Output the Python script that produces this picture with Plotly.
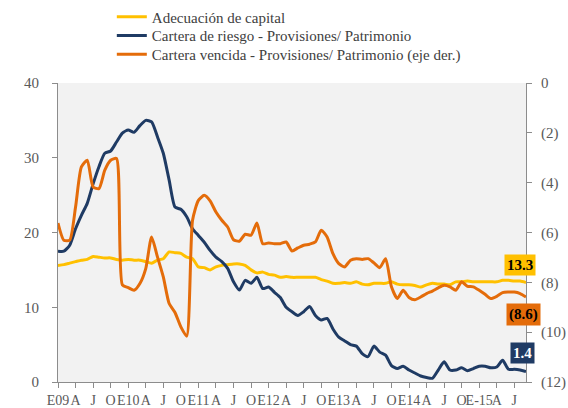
import plotly.graph_objects as go

# Monthly data, Jan 2009 .. Sep 2015 (81 months)
months = list(range(81))

adecuacion = [15.6, 15.7, 15.9, 16.1, 16.3, 16.4, 16.8, 16.7, 16.6, 16.6,
              16.4, 16.3, 16.4, 16.3, 16.3, 16.1, 15.9, 16.3, 16.5, 17.4,
              17.3, 17.2, 16.7, 16.5, 15.4, 15.3, 15.0, 15.4, 15.6, 15.7,
              15.8, 15.8, 15.6, 15.0, 14.6, 14.7, 14.4, 14.3, 14.0, 14.1,
              14.0, 14.0, 14.0, 14.0, 14.0, 13.7, 13.5, 13.2, 13.2, 13.3,
              13.2, 13.4, 13.1, 13.0, 13.2, 13.2, 13.2, 13.4, 13.1, 13.0,
              13.0, 12.9, 12.7, 13.0, 13.2, 13.1, 13.1, 13.0, 13.4, 13.4,
              13.5, 13.4, 13.4, 13.4, 13.4, 13.4, 13.6, 13.6, 13.5, 13.5,
              13.3]

cartera_riesgo = [17.5, 17.5, 18.3, 20.5, 22.3, 23.9, 26.5, 28.8, 30.6, 30.9,
                  32.1, 33.3, 33.7, 33.4, 34.3, 35.0, 34.8, 32.8, 30.6, 27.0,
                  23.4, 23.1, 22.1, 20.5, 19.6, 18.7, 17.6, 16.7, 16.1, 15.2,
                  13.4, 12.3, 13.6, 13.2, 14.0, 12.5, 12.7, 12.0, 11.3, 10.0,
                  9.4, 8.9, 9.4, 10.1, 8.9, 8.3, 8.5, 7.1, 6.0, 5.5,
                  5.0, 4.8, 3.8, 3.4, 4.8, 4.0, 3.6, 2.2, 1.8, 2.1,
                  1.6, 1.2, 0.8, 0.6, 0.5, 1.6, 2.7, 1.6, 1.6, 1.9,
                  1.5, 1.8, 2.1, 2.1, 1.9, 2.0, 2.9, 1.7, 1.7, 1.6,
                  1.4]

cartera_vencida = [-5.62, -6.31, -6.31, -4.98, -3.37, -3.10, -4.17, -4.24, -3.50, -3.10,
                   -3.03, -8.10, -8.21, -8.32, -8.05, -7.45, -6.18, -6.98, -7.78, -8.85,
                   -9.21, -9.79, -10.16, -5.51, -4.71, -4.51, -4.73, -5.18, -5.51, -5.78,
                   -6.29, -6.35, -6.07, -6.11, -5.62, -6.45, -6.42, -6.45, -6.45, -6.38,
                   -6.74, -6.62, -6.51, -6.47, -6.38, -5.91, -6.18, -6.85, -7.25, -7.38,
                   -7.11, -7.05, -7.08, -7.05, -7.22, -7.41, -7.05, -8.18, -8.65, -8.32,
                   -8.61, -8.70, -8.59, -8.45, -8.35, -8.22, -8.12, -8.18, -8.32, -7.98,
                   -8.16, -8.18, -8.32, -8.48, -8.65, -8.56, -8.41, -8.39, -8.39, -8.45,
                   -8.59]

tick_pos = list(range(0, 79, 3))
tick_text = ["E09", "A", "J", "O", "E10", "A", "J", "O", "E11", "A", "J", "O",
             "E12", "A", "J", "O", "E13", "A", "J", "O", "E14", "A", "J", "O",
             "E-15", "A", "J"]

left_ticks = [0, 10, 20, 30, 40]
right_ticks = [0, -2, -4, -6, -8, -10, -12]
right_text = ["0", "(2)", "(4)", "(6)", "(8)", "(10)", "(12)"]

names = ["Adecuación de capital",
         "Cartera de riesgo - Provisiones/ Patrimonio",
         "Cartera vencida - Provisiones/ Patrimonio (eje der.)"]
c_yellow = "#FFC000"
c_navy = "#1F3B64"
c_orange = "#E46C0A"

FONT = "Liberation Serif, Times New Roman, DejaVu Serif, serif"
GRAY = "#595959"
AXC = "#8C8C8C"

fig = go.Figure()
fig.add_trace(go.Scatter(x=months, y=adecuacion, name=names[0], mode="lines", legend="legend",
                         line=dict(color=c_yellow, width=3, shape="spline", smoothing=0.6)))
fig.add_trace(go.Scatter(x=months, y=cartera_riesgo, name=names[1], mode="lines", legend="legend2",
                         line=dict(color=c_navy, width=3, shape="spline", smoothing=0.6)))
fig.add_trace(go.Scatter(x=months, y=cartera_vencida, name=names[2], mode="lines", yaxis="y2",
                         legend="legend3",
                         line=dict(color=c_orange, width=3, shape="spline", smoothing=0.6)))

last = months[-1]
fig.add_annotation(x=last, y=adecuacion[-1], xref="x", yref="y", text="<b>13.3</b>",
                   showarrow=False, bgcolor=c_yellow, font=dict(color="black", size=15, family=FONT),
                   xshift=-6, yshift=18, borderpad=2)
fig.add_annotation(x=last, y=cartera_vencida[-1], xref="x", yref="y2", text="<b>(8.6)</b>",
                   showarrow=False, bgcolor=c_orange, font=dict(color="black", size=15, family=FONT),
                   xshift=-3, yshift=-17, borderpad=2)
fig.add_annotation(x=last, y=cartera_riesgo[-1], xref="x", yref="y", text="<b>1.4</b>",
                   showarrow=False, bgcolor=c_navy, font=dict(color="white", size=15, family=FONT),
                   xshift=-4, yshift=19, borderpad=2)

leg = dict(x=0.115, xanchor="left", yanchor="top",
           font=dict(family=FONT, size=15, color="#404040"),
           bgcolor="rgba(0,0,0,0)", itemwidth=30)
row_step = 18.7 / 299.0
y0 = 1.276

fig.update_layout(
    width=568, height=408,
    margin=dict(l=58, r=42, t=83, b=26, autoexpand=False),
    paper_bgcolor="white", plot_bgcolor="#F2F2F2",
    font=dict(family=FONT, size=14, color=GRAY),
    showlegend=True,
    legend=dict(leg, y=y0),
    legend2=dict(leg, y=y0 - row_step),
    legend3=dict(leg, y=y0 - 2 * row_step),
    xaxis=dict(range=[0, 80], tickvals=tick_pos, ticktext=tick_text, tickangle=0,
               showgrid=False, zeroline=False, showline=True, linecolor=AXC, linewidth=1,
               ticks="outside", ticklen=5, tickcolor=AXC,
               tickfont=dict(family=FONT, size=14, color=GRAY)),
    yaxis=dict(range=[0, 40], tickvals=left_ticks, showgrid=False, zeroline=False,
               showline=True, linecolor=AXC, linewidth=1, ticks="outside", ticklen=5,
               tickcolor=AXC, ticklabelstandoff=10,
               tickfont=dict(family=FONT, size=15, color=GRAY)),
    yaxis2=dict(range=[-12, 0], overlaying="y", side="right", tickvals=right_ticks,
                ticktext=right_text, showgrid=False, zeroline=False, showline=True,
                linecolor=AXC, linewidth=1, ticks="outside", ticklen=5, tickcolor=AXC,
                ticklabelstandoff=6,
                tickfont=dict(family=FONT, size=15, color=GRAY)),
)

fig.write_html("out.html", config={"displayModeBar": False},
               post_script="document.body.style.margin='0px';document.body.style.overflow='hidden';")
